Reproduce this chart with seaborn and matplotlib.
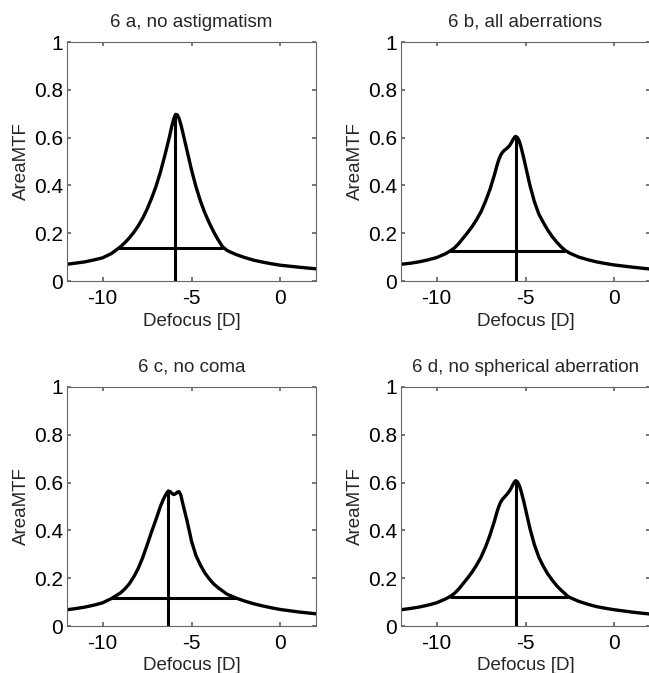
import numpy as np
import pandas as pd
import matplotlib
matplotlib.use("Agg")
import matplotlib.pyplot as plt
import seaborn as sns

# AreaMTF vs defocus
defocus_a = [-12, -11.5, -11, -10.5, -10, -9.5, -9.0, -8.75, -8.5, -8.25, -8.0, -7.75,
             -7.5, -7.25, -7.0, -6.75, -6.5, -6.25, -6.1, -6.0, -5.9, -5.8, -5.7, -5.6,
             -5.5, -5.25, -5.0, -4.75, -4.5, -4.25, -4.0, -3.75, -3.5, -3.25, -3.0,
             -2.75, -2.5, -2.0, -1.5, -1.0, -0.5, 0, 1, 2]
mtf_a = [0.070, 0.075, 0.080, 0.088, 0.097, 0.115, 0.143, 0.160, 0.180, 0.203, 0.230,
         0.262, 0.300, 0.345, 0.395, 0.455, 0.525, 0.600, 0.650, 0.678, 0.697, 0.695,
         0.680, 0.655, 0.625, 0.545, 0.465, 0.395, 0.335, 0.285, 0.243, 0.205, 0.172,
         0.143, 0.128, 0.119, 0.111, 0.098, 0.087, 0.079, 0.072, 0.066, 0.058, 0.051]

defocus_b = [-12, -11.5, -11, -10.5, -10, -9.5, -9.25, -9.0, -8.75, -8.5, -8.25, -8.0,
             -7.75, -7.5, -7.25, -7.0, -6.75, -6.6, -6.5, -6.4, -6.3, -6.2, -6.1, -6.0,
             -5.9, -5.8, -5.7, -5.6, -5.55, -5.45, -5.35, -5.25, -5.1, -5.0, -4.75, -4.5,
             -4.25, -4.0, -3.75, -3.5, -3.25, -3.0, -2.75, -2.5, -2.0, -1.5, -1.0, -0.5,
             0, 1, 2]
mtf_b = [0.070, 0.074, 0.080, 0.088, 0.098, 0.114, 0.125, 0.138, 0.157, 0.180, 0.203,
         0.228, 0.257, 0.290, 0.333, 0.383, 0.443, 0.485, 0.508, 0.526, 0.538, 0.546,
         0.552, 0.558, 0.566, 0.578, 0.592, 0.603, 0.605, 0.600, 0.585, 0.560, 0.515,
         0.482, 0.400, 0.332, 0.280, 0.245, 0.213, 0.186, 0.163, 0.143, 0.127, 0.116,
         0.100, 0.089, 0.080, 0.073, 0.067, 0.058, 0.050]

defocus_c = [-12, -11.5, -11, -10.5, -10, -9.5, -9.0, -8.75, -8.5, -8.25, -8.0, -7.75,
             -7.5, -7.25, -7.0, -6.75, -6.6, -6.5, -6.4, -6.3, -6.2, -6.1, -6.0, -5.9,
             -5.8, -5.7, -5.6, -5.5, -5.4, -5.25, -5.1, -5.0, -4.75, -4.5, -4.25, -4.0,
             -3.75, -3.5, -3.0, -2.5, -2.0, -1.5, -1.0, -0.5, 0, 1, 2]
mtf_c = [0.068, 0.073, 0.079, 0.087, 0.097, 0.115, 0.138, 0.155, 0.176, 0.205, 0.240,
         0.285, 0.338, 0.393, 0.445, 0.500, 0.527, 0.542, 0.556, 0.565, 0.562, 0.555,
         0.550, 0.553, 0.560, 0.562, 0.548, 0.515, 0.485, 0.440, 0.390, 0.355, 0.295,
         0.255, 0.222, 0.197, 0.176, 0.160, 0.133, 0.117, 0.104, 0.093, 0.084, 0.076,
         0.069, 0.059, 0.051]

defocus_d = [-12, -11.5, -11, -10.5, -10, -9.5, -9.25, -9.0, -8.75, -8.5, -8.25, -8.0,
             -7.75, -7.5, -7.25, -7.0, -6.75, -6.6, -6.5, -6.4, -6.3, -6.2, -6.1, -6.0,
             -5.9, -5.8, -5.7, -5.6, -5.55, -5.45, -5.35, -5.25, -5.1, -5.0, -4.75, -4.5,
             -4.25, -4.0, -3.75, -3.5, -3.25, -3.0, -2.75, -2.6, -2.5, -2.0, -1.5, -1.0,
             -0.5, 0, 1, 2]
mtf_d = [0.068, 0.073, 0.079, 0.087, 0.097, 0.113, 0.123, 0.136, 0.155, 0.178, 0.201,
         0.226, 0.255, 0.288, 0.330, 0.380, 0.438, 0.478, 0.500, 0.518, 0.530, 0.538,
         0.546, 0.555, 0.565, 0.578, 0.593, 0.605, 0.608, 0.603, 0.588, 0.565, 0.522,
         0.490, 0.408, 0.340, 0.288, 0.250, 0.218, 0.192, 0.169, 0.150, 0.133, 0.123,
         0.119, 0.103, 0.091, 0.081, 0.074, 0.068, 0.058, 0.050]

titles = ["6 a, no astigmatism", "6 b, all aberrations",
          "6 c, no coma", "6 d, no spherical aberration"]

# peak position / height (vertical marker) and 20 % width line
peak_x = [-5.9, -5.55, -6.3, -5.55]
peak_y = [0.697, 0.605, 0.565, 0.608]
width_level = [0.14, 0.125, 0.117, 0.123]
width_left = [-9.12, -9.25, -9.55, -9.25]
width_right = [-3.22, -2.78, -2.5, -2.6]

x_ticks = [-10, -5, 0]
y_ticks = [0, 0.2, 0.4, 0.6, 0.8, 1]
y_ticklabels = ["0", "0.2", "0.4", "0.6", "0.8", "1"]

sns.set_theme(style="ticks")
plt.rcParams.update({
    "font.family": ["Liberation Sans", "DejaVu Sans"],
    "font.size": 13.5,
    "axes.edgecolor": "#666666",
    "axes.linewidth": 0.8,
    "xtick.direction": "in",
    "ytick.direction": "in",
    "xtick.top": True,
    "ytick.right": True,
    "xtick.major.size": 3,
    "ytick.major.size": 3,
    "xtick.color": "#666666",
    "ytick.color": "#666666",
    "xtick.labelcolor": "black",
    "ytick.labelcolor": "black",
})

W, H = 649, 673
fig = plt.figure(figsize=(W / 100, H / 100), dpi=100)

# axes boxes in pixels: left, top
boxes = [(67, 42), (401, 42), (67, 387), (401, 387)]
ax_w, ax_h = 249, 239

series = [(defocus_a, mtf_a), (defocus_b, mtf_b), (defocus_c, mtf_c), (defocus_d, mtf_d)]

for i, (left, top) in enumerate(boxes):
    ax = fig.add_axes([left / W, 1 - (top + ax_h) / H, ax_w / W, ax_h / H])
    xs, ys = series[i]
    df = pd.DataFrame({"Defocus": xs, "AreaMTF": ys})
    sns.lineplot(data=df, x="Defocus", y="AreaMTF", ax=ax, color="black",
                 linewidth=2.4, sort=True)
    ax.vlines(peak_x[i], 0, peak_y[i], color="black", linewidth=2.2)
    ax.hlines(width_level[i], width_left[i], width_right[i], color="black", linewidth=2.2)

    ax.set_xlim(-12, 2)
    ax.set_ylim(0, 1)
    ax.set_xticks(x_ticks)
    ax.set_xticklabels([str(t) for t in x_ticks])
    ax.set_yticks(y_ticks)
    ax.set_yticklabels(y_ticklabels)
    ax.tick_params(axis="x", pad=6, labelsize=15)
    ax.tick_params(axis="y", pad=3, labelsize=15)
    ax.set_xlabel("Defocus [D]", fontsize=13.5, labelpad=3)
    ax.set_ylabel("AreaMTF", fontsize=13.5, labelpad=3)
    ax.set_title(titles[i], fontsize=13.5, pad=11)
    for s in ax.spines.values():
        s.set_visible(True)

fig.savefig("out.png", dpi=100)
